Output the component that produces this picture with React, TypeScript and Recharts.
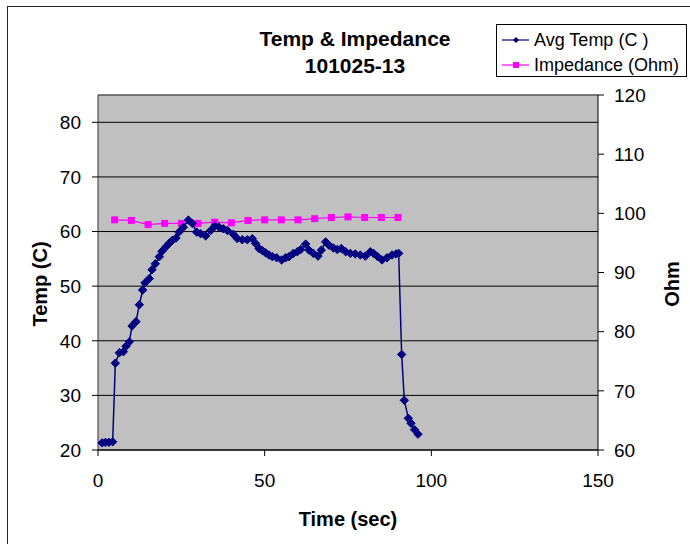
import React from 'react';
import {
  ComposedChart,
  Line,
  XAxis,
  YAxis,
  CartesianGrid,
  ReferenceLine
} from 'recharts';

// Avg temperature samples (time in sec, temp in C)
const tempTimes = [
  1.2, 2.2, 3.3, 4.4, 5.2, 6.4, 7.6, 8.4, 9.4, 10.2, 11.4, 12.4, 13.4, 14.1, 15.4, 16.2, 17.2, 18.4,
  19.2, 20.4, 21.3, 22.3, 23.4, 24.3, 25.6, 27.1, 28.3, 29.6, 30.8, 32.3, 33.8, 35.0, 36.3, 37.6,
  38.8, 40.6, 41.8, 43.3, 44.8, 46.3, 47.3, 48.3, 49.3, 50.3, 51.3, 52.3, 53.6, 55.1, 56.3, 57.3,
  58.6, 59.8, 60.8, 62.3, 63.3, 64.6, 66.0, 67.0, 68.3, 69.3, 70.6, 71.8, 73.0, 74.3, 75.7, 77.2,
  78.7, 80.2, 81.7, 82.7, 83.9, 85.2, 86.7, 88.2, 89.4, 90.2, 91.1, 91.9, 93.1, 93.9, 95.0, 96.0
];
const tempValues = [
  21.3, 21.4, 21.4, 21.5, 35.9, 37.8, 38.0, 39.0, 39.8, 42.7, 43.5, 46.6, 49.3, 50.6, 51.4, 53.0, 54.1, 55.4,
  56.4, 57.2, 57.8, 58.4, 58.8, 59.9, 60.8, 62.1, 61.5, 59.9, 59.6, 59.2, 60.2, 61.0, 60.8, 60.5,
  60.2, 59.5, 58.7, 58.5, 58.5, 58.7, 57.8, 56.9, 56.5, 56.1, 55.7, 55.4, 55.2, 54.8, 55.2, 55.4,
  56.0, 56.3, 56.7, 57.7, 56.6, 56.0, 55.5, 56.6, 58.1, 57.5, 57.0, 56.7, 56.9, 56.3, 56.0, 55.9,
  55.7, 55.5, 56.3, 56.0, 55.4, 54.8, 55.2, 55.7, 55.9, 56.0, 37.5, 29.1, 25.8, 24.9, 23.7, 22.9
];

// Impedance samples (time in sec, Ohm)
const impTimes = [5, 10, 15, 20, 25, 30, 35, 40, 45, 50, 55, 60, 65, 70, 75, 80, 85, 90];
const impValues = [98.9, 98.8, 98.1, 98.3, 98.3, 98.3, 98.5, 98.4, 98.8, 98.9, 98.9, 98.9, 99.1, 99.3, 99.4, 99.3, 99.3, 99.3];

const xTicks = [0, 50, 100, 150];
const tempTicks = [20, 30, 40, 50, 60, 70, 80];
const ohmTicks = [60, 70, 80, 90, 100, 110, 120];

const tempData = tempTimes.map((t, i) => ({ t, temp: tempValues[i] }));
const impData = impTimes.map((t, i) => ({ t, ohm: impValues[i] }));

const FONT = '"Liberation Sans", Arial, sans-serif';
const NAVY = '#000080';
const MAGENTA = '#FF00FF';

const Diamond = (props: any) => {
  const { cx, cy } = props;
  if (cx == null || cy == null) return null;
  const r = 4.2;
  return (
    <polygon
      points={`${cx},${cy - r} ${cx + r},${cy} ${cx},${cy + r} ${cx - r},${cy}`}
      fill={NAVY}
      stroke={NAVY}
      strokeWidth={1}
    />
  );
};

const Square = (props: any) => {
  const { cx, cy } = props;
  if (cx == null || cy == null) return null;
  return <rect x={cx - 3.5} y={cy - 3.5} width={7} height={7} fill={MAGENTA} />;
};

const tickStyle = { fill: '#000', fontSize: 19, fontFamily: FONT };

export default function App() {
  return (
    <div
      style={{
        position: 'absolute',
        left: 0,
        top: 0,
        width: 690,
        height: 544,
        background: '#fff',
        overflow: 'hidden',
        fontFamily: FONT
      }}
    >
      {/* chart frame, runs off the right and bottom edges */}
      <div
        style={{
          position: 'absolute',
          left: 7,
          top: 6,
          width: 700,
          height: 560,
          border: '1px solid #222'
        }}
      />

      <ComposedChart
        width={690}
        height={544}
        margin={{ top: 95, right: 32, bottom: 44, left: 38 }}
        style={{ position: 'absolute', left: 0, top: 0 }}
      >
        <CartesianGrid
          yAxisId="left"
          vertical={false}
          stroke="#000"
          strokeWidth={1}
          fill="#C0C0C0"
          fillOpacity={1}
        />
        <XAxis
          dataKey="t"
          type="number"
          domain={[0, 150]}
          ticks={xTicks}
          tick={tickStyle}
          tickSize={6}
          tickMargin={18}
          height={50}
          stroke="#000"
          axisLine={{ stroke: '#000' }}
          tickLine={{ stroke: '#000' }}
        />
        <YAxis
          yAxisId="left"
          type="number"
          domain={[20, 85]}
          ticks={tempTicks}
          tick={tickStyle}
          tickSize={6}
          tickMargin={11}
          width={60}
          axisLine={{ stroke: '#333' }}
          tickLine={{ stroke: '#000' }}
        />
        <YAxis
          yAxisId="right"
          orientation="right"
          type="number"
          domain={[60, 120]}
          ticks={ohmTicks}
          tick={tickStyle}
          tickSize={6}
          tickMargin={10}
          width={60}
          axisLine={{ stroke: '#000' }}
          tickLine={{ stroke: '#000' }}
        />
        <ReferenceLine yAxisId="left" y={85} stroke="#808080" strokeWidth={1} />
        <Line
          yAxisId="right"
          data={impData}
          dataKey="ohm"
          type="linear"
          stroke={MAGENTA}
          strokeWidth={1.2}
          dot={<Square />}
          isAnimationActive={false}
        />
        <Line
          yAxisId="left"
          data={tempData}
          dataKey="temp"
          type="linear"
          stroke={NAVY}
          strokeWidth={1.5}
          dot={<Diamond />}
          isAnimationActive={false}
        />
      </ComposedChart>

      {/* title */}
      <div
        style={{
          position: 'absolute',
          left: 230,
          top: 25,
          width: 250,
          textAlign: 'center',
          fontWeight: 'bold',
          fontSize: 21,
          lineHeight: '27px',
          color: '#000'
        }}
      >
        Temp &amp; Impedance
        <br />
        101025-13
      </div>

      {/* legend */}
      <div
        style={{
          position: 'absolute',
          left: 496,
          top: 24,
          width: 189,
          height: 51,
          border: '1px solid #000',
          background: '#fff',
          fontSize: 18,
          color: '#000'
        }}
      >
        {[
          { label: 'Avg Temp (C )', color: NAVY, marker: 'diamond' },
          { label: 'Impedance (Ohm)', color: MAGENTA, marker: 'square' }
        ].map((item, i) => (
          <div
            key={item.label}
            style={{ position: 'absolute', left: 0, top: 4 + i * 25, height: 22, display: 'flex', alignItems: 'center' }}
          >
            <svg width={37} height={22} style={{ display: 'block' }}>
              <line x1={5} y1={11} x2={32} y2={11} stroke={item.color} strokeWidth={1.2} />
              {item.marker === 'diamond' ? (
                <polygon points="19,8 22,11 19,14 16,11" fill={item.color} />
              ) : (
                <rect x={16} y={8} width={6} height={6} fill={item.color} />
              )}
            </svg>
            <span style={{ whiteSpace: 'nowrap' }}>{item.label}</span>
          </div>
        ))}
      </div>

      {/* axis titles */}
      <div
        style={{
          position: 'absolute',
          left: 248,
          top: 508,
          width: 200,
          textAlign: 'center',
          fontWeight: 'bold',
          fontSize: 20
        }}
      >
        Time (sec)
      </div>
      <div
        style={{
          position: 'absolute',
          left: 40 - 60,
          top: 272,
          width: 120,
          textAlign: 'center',
          fontWeight: 'bold',
          fontSize: 20,
          lineHeight: '24px',
          transform: 'rotate(-90deg)'
        }}
      >
        Temp (C)
      </div>
      <div
        style={{
          position: 'absolute',
          left: 672 - 40,
          top: 272,
          width: 80,
          textAlign: 'center',
          fontWeight: 'bold',
          fontSize: 20,
          lineHeight: '24px',
          transform: 'rotate(-90deg)'
        }}
      >
        Ohm
      </div>
    </div>
  );
}
